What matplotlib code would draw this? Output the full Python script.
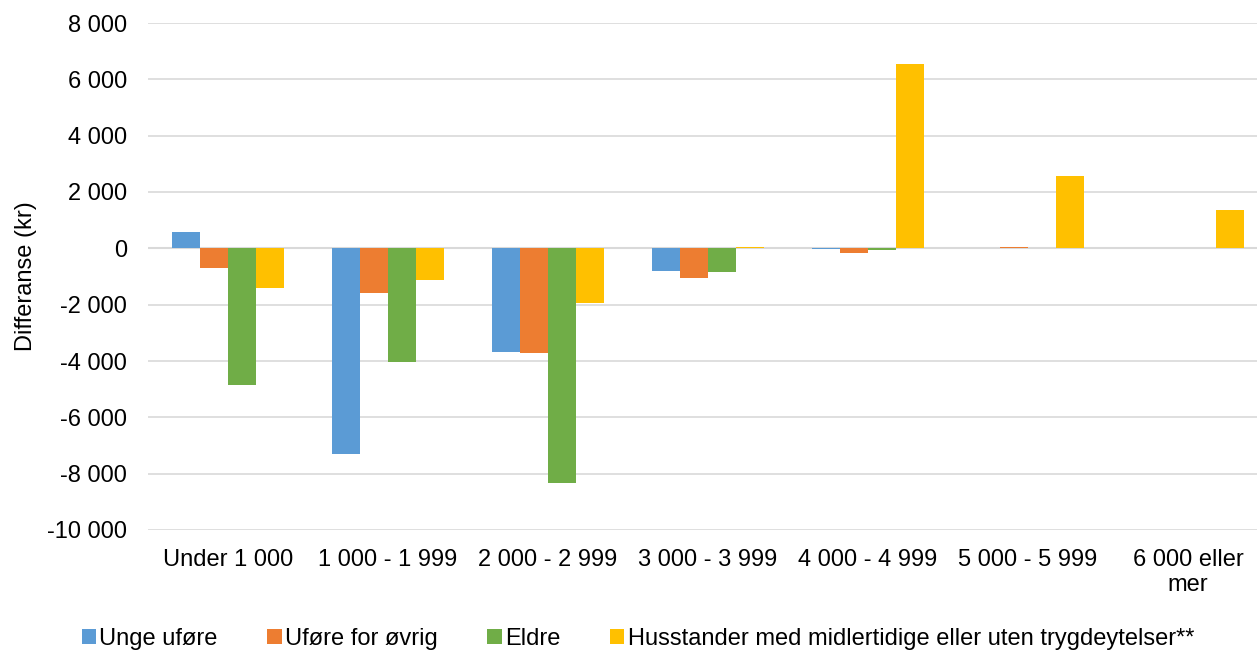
import matplotlib
matplotlib.use('Agg')
import matplotlib.pyplot as plt
import numpy as np
from matplotlib.patches import Patch

plt.rcParams['font.family'] = ['Liberation Sans', 'DejaVu Sans']

# --- Data ---
categories = ["Under 1 000", "1 000 - 1 999", "2 000 - 2 999", "3 000 - 3 999",
              "4 000 - 4 999", "5 000 - 5 999", "6 000 eller\nmer"]
series_names = ["Unge uføre", "Uføre for øvrig", "Eldre",
                "Husstander med midlertidige eller uten trygdeytelser**"]
unge_ufore = [570, -7310, -3690, -800, -20, 0, 0]
ufore_ovrig = [-710, -1600, -3730, -1040, -170, 50, 0]
eldre = [-4860, -4050, -8340, -840, -70, 0, 0]
husstander = [-1420, -1140, -1950, 50, 6540, 2560, 1350]
yticks = [-10000, -8000, -6000, -4000, -2000, 0, 2000, 4000, 6000, 8000]

colors = ['#5B9BD5', '#ED7D31', '#70AD47', '#FFC000']
FS = 17

W, H = 1257, 650
fig = plt.figure(figsize=(W / 100, H / 100), dpi=100)
ax = fig.add_axes([148 / W, 1 - 530 / H, 1120 / W, (530 - 23) / H])

x = np.arange(len(categories))
bw = 0.175
all_series = [unge_ufore, ufore_ovrig, eldre, husstander]
for i, (vals, c) in enumerate(zip(all_series, colors)):
    ax.bar(x + (i - 1.5) * bw, vals, width=bw, color=c, zorder=3,
           edgecolor='none')

ax.set_xlim(-0.5, len(categories) - 0.5)
ax.set_ylim(-10000, 8000)
ax.set_yticks(yticks)
ax.set_yticklabels([f"{v:,}".replace(",", " ") for v in yticks], fontsize=FS)
ax.set_xticks(x)
ax.set_xticklabels(categories, fontsize=FS, linespacing=1.15)
ax.tick_params(axis='both', length=0)
ax.tick_params(axis='y', pad=15)
ax.tick_params(axis='x', pad=14)
ax.grid(axis='y', color='#D9D9D9', linewidth=1.2, zorder=0)
ax.axhline(0, color='#D9D9D9', linewidth=1.5, zorder=2)
for s in ax.spines.values():
    s.set_visible(False)

fig.text(26 / W, 1 - 276 / H, "Differanse (kr)", rotation=90, fontsize=FS,
         ha='center', va='center')

handles = [Patch(facecolor=c, edgecolor='none') for c in colors]
fig.legend(handles, series_names, loc='center', bbox_to_anchor=(638 / W, 1 - 639 / H),
           ncol=4, frameon=False, fontsize=FS, handlelength=0.6, handleheight=0.6,
           handletextpad=0.15, columnspacing=2.1, borderpad=0, borderaxespad=0)

fig.savefig('out.png', dpi=100)
